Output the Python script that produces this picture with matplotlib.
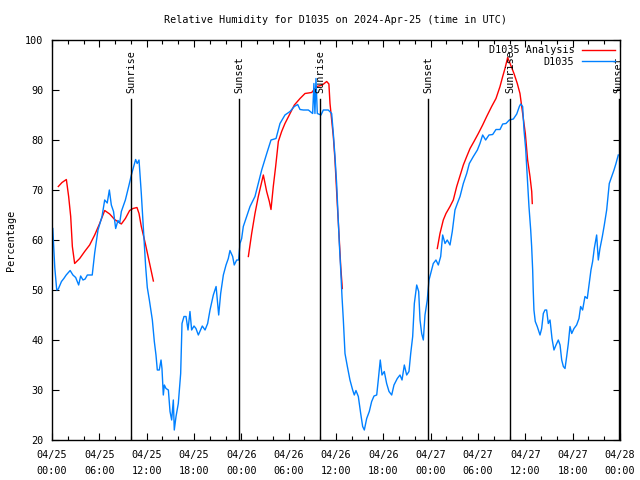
import matplotlib
matplotlib.use("Agg")
import matplotlib.pyplot as plt
import numpy as np

# hours since 2024-04-25 00:00 UTC
obs_hours = [0.1, 0.35, 0.6, 0.8, 1.2, 1.5, 1.8, 2.3, 2.65, 3.0, 3.38, 3.63, 3.93, 4.2, 4.48, 5.1,
             5.41, 5.83, 6.34, 6.68, 7.0, 7.27, 7.52, 7.8, 8.07, 8.36, 8.58, 8.79, 9.3, 9.72, 10.06,
             10.4, 10.6, 10.8, 11.03, 11.32, 11.6, 11.87, 12.08, 12.34, 12.72, 12.97, 13.18, 13.35,
             13.6, 13.82, 13.94, 14.11, 14.24, 14.45, 14.75, 14.96, 15.17, 15.38, 15.5, 15.72, 16.01,
             16.31, 16.48, 16.73, 16.99, 17.24, 17.49, 17.7, 18.0, 18.25, 18.55, 19.05, 19.4, 19.73,
             20.03, 20.45, 20.8, 21.13, 21.38, 21.72, 22.06, 22.35, 22.56, 22.9, 23.1, 23.41, 23.66,
             23.83, 24.04, 24.25, 24.68, 25.1, 25.73, 26.15, 26.58, 27.22, 27.76, 28.4, 28.9, 29.53,
             30.17, 30.72, 31.14, 31.44, 31.86, 32.5, 33.04, 33.2, 33.33, 33.46, 33.63, 34.1, 34.39,
             35.02, 35.45, 35.66, 35.87, 36.08, 36.29, 36.42, 36.6, 36.76, 36.93, 37.14, 37.44, 37.77,
             38.11, 38.32, 38.53, 38.83, 39.13, 39.38, 39.59, 39.89, 40.22, 40.52, 40.82, 41.16, 41.36,
             41.61, 41.83, 42.12, 42.42, 42.72, 43.06, 43.35, 43.77, 44.11, 44.37, 44.66, 44.96, 45.25,
             45.47, 45.72, 45.93, 46.23, 46.48, 46.65, 46.86, 47.07, 47.28, 47.57, 47.79, 48.0, 48.33,
             48.67, 48.97, 49.27, 49.52, 49.82, 50.1, 50.45, 50.74, 51.08, 51.38, 51.72, 52.14, 52.57,
             52.9, 53.41, 53.92, 54.25, 54.59, 54.97, 55.39, 55.86, 56.28, 56.79, 57.13, 57.55, 57.97,
             58.48, 58.91, 59.24, 59.41, 59.66, 59.83, 60.04, 60.17, 60.3, 60.46, 60.68, 60.8, 60.93,
             61.0, 61.09, 61.26, 61.51, 61.86, 62.07, 62.28, 62.49, 62.7, 62.91, 63.13, 63.38, 63.63,
             63.89, 64.18, 64.4, 64.61, 64.82, 65.03, 65.24, 65.45, 65.66, 65.88, 66.17, 66.5, 66.8,
             67.01, 67.26, 67.56, 67.85, 68.1, 68.32, 68.53, 68.74, 69.04, 69.25, 69.46, 69.76, 70.01,
             70.31, 70.64, 70.95, 71.24, 71.49, 71.78]
obs_rh = [62.3, 54.5, 50.0, 50.2, 51.7, 52.3, 53.0, 53.9, 53.0, 52.5, 51.0, 52.8, 52.0, 52.2, 53.0, 53.0,
          57.4, 62.0, 64.7, 68.0, 67.4, 70.0, 67.0, 65.7, 62.3, 63.9, 63.4, 65.7, 68.0, 70.7, 73.0,
          75.0, 76.1, 75.3, 76.0, 69.3, 62.0, 54.7, 50.5, 48.0, 44.0, 39.7, 37.0, 34.0,
          34.0, 36.0, 34.3, 29.0, 31.0, 30.3, 30.0, 25.7, 24.0, 28.0, 22.0, 24.7, 27.3,
          33.3, 43.3, 44.7, 44.7, 42.0, 45.7, 42.0, 42.8, 42.3, 41.0, 42.8, 42.0, 43.3,
          46.0, 49.0, 50.7, 45.0, 49.3, 53.0, 55.0, 56.3, 57.9, 56.7, 55.0, 56.0, 56.0,
          59.3, 60.3, 62.7, 64.7, 66.7, 68.7, 71.3, 74.0, 77.3, 80.0, 80.3, 83.3, 85.0,
          85.7, 86.7, 87.1, 86.1, 86.0, 86.0, 85.3, 91.3, 85.3, 92.3, 85.3, 85.0, 86.0,
          86.0, 85.3, 81.3, 76.7, 71.3, 64.0, 59.3, 54.0, 48.7, 44.0, 37.3, 34.7, 32.0,
          30.0, 29.0, 29.9, 28.7, 25.3, 22.7, 22.0, 24.3, 25.7, 27.7, 28.8, 29.0, 32.0,
          36.0, 33.0, 33.7, 31.3, 29.7, 29.0, 31.0, 32.3, 33.0, 32.0, 35.0, 33.0, 33.7,
          37.3, 40.7, 47.3, 51.0, 49.7, 44.0, 41.3, 40.0, 45.0, 48.0, 52.0, 53.3, 55.3,
          56.0, 55.0, 56.7, 61.0, 59.3, 60.0, 59.0, 61.7, 66.0, 67.3, 68.7, 71.3, 73.3,
          75.3, 76.7, 78.0, 79.3, 81.0, 80.0, 81.0, 81.1, 82.1, 82.1, 83.2, 83.3, 84.0,
          84.2, 85.2, 86.7, 87.2, 86.7, 82.0, 78.3, 74.7, 71.3, 66.7, 62.0, 58.7, 54.0,
          50.0, 46.0, 43.7, 42.7, 41.0, 42.3, 45.3, 46.0, 46.0, 43.3, 44.0, 40.3, 38.0,
          39.0, 40.0, 39.0, 36.0, 34.7, 34.3, 36.7, 39.3, 42.7, 41.3, 42.3, 43.0, 44.3,
          46.7, 46.0, 48.7, 48.3, 51.3, 54.0, 55.7, 58.3, 61.0, 56.0, 58.3, 60.7, 63.0,
          66.0, 71.3, 72.7, 74.0, 75.3, 77.0]

# analysis series, NaN marks the gaps between runs
ana_hours = [0.8, 1.27, 1.82, 2.11, 2.37, 2.58, 2.87, 3.51, 4.14, 4.77, 5.41, 6.04, 6.68, 7.31, 7.94,
             8.79, 9.3, 9.84, 10.27, 10.77, 11.03, 11.32, 11.62, 11.87, 12.85, 18.0,
             24.89, 25.31, 25.73, 26.15, 26.49, 26.79, 27.21, 27.55, 27.76, 28.05, 28.35, 28.69, 29.11,
             29.53, 30.08, 30.72, 31.44, 32.07, 32.92, 33.55, 34.27, 34.82, 35.1, 35.24, 35.45, 35.66,
             35.87, 36.16, 36.42, 36.6, 36.8, 42.0,
             48.84, 49.18, 49.6, 49.94, 50.45, 50.87, 51.3, 51.81, 52.14, 52.57, 52.99, 53.49, 54.04,
             54.59, 55.1, 55.73, 56.28, 56.79, 57.13, 57.42, 57.76, 58.14, 58.56, 58.98, 59.32, 59.66,
             60.0, 60.29, 60.59, 60.81, 60.88]
ana_rh = [70.7, 71.5, 72.1, 68.7, 64.7, 58.7, 55.3, 56.3, 57.7, 59.0, 61.0, 63.3, 65.9, 65.2, 64.1,
          63.2, 64.3, 65.9, 66.3, 66.5, 65.3, 62.7, 60.7, 59.0, 51.8, np.nan,
          56.7, 61.3, 65.3, 68.7, 71.0, 73.0, 69.7, 67.7, 66.1, 70.7, 74.7, 79.7, 81.7,
          83.3, 85.0, 87.0, 88.3, 89.3, 89.5, 90.7, 91.0, 91.7, 91.2, 87.3, 84.0, 80.7,
          76.0, 67.3, 60.0, 54.7, 50.3, np.nan,
          58.3, 61.3, 64.0, 65.3, 66.7, 68.0, 70.7, 73.3, 75.0, 76.7, 78.3, 79.7, 81.3,
          83.0, 84.7, 86.7, 88.3, 90.7, 92.7, 94.3, 96.5, 95.0, 93.3, 91.3, 89.3, 85.3,
          81.3, 76.0, 72.7, 69.7, 67.3]

sun_hours = [10.0, 23.7, 34.03, 47.65, 58.06, 71.85]
sun_labels = ["Sunrise", "Sunset", "Sunrise", "Sunset", "Sunrise", "Sunset"]

tick_hours = [0, 6, 12, 18, 24, 30, 36, 42, 48, 54, 60, 66, 72]
tick_labels = ["04/25\n00:00", "04/25\n06:00", "04/25\n12:00", "04/25\n18:00",
               "04/26\n00:00", "04/26\n06:00", "04/26\n12:00", "04/26\n18:00",
               "04/27\n00:00", "04/27\n06:00", "04/27\n12:00", "04/27\n18:00",
               "04/28\n00:00"]

plt.rcParams['font.family'] = ['DejaVu Sans Mono']
fs = 7.3

fig = plt.figure(figsize=(6.4, 4.8), dpi=100)
ax = fig.add_axes([52 / 640, 40 / 480, 568 / 640, 400 / 480])

ax.plot(ana_hours, ana_rh, color='#ff0000', lw=1.0, label='D1035 Analysis')
ax.plot(obs_hours, obs_rh, color='#0080ff', lw=1.0, label='D1035')

for h, lab in zip(sun_hours, sun_labels):
    ax.plot([h, h], [20, 88.2], color='black', lw=1.0)
    ax.text(h, 89.3, lab, rotation=90, ha='center', va='bottom', fontsize=fs)

ax.set_xlim(0, 72)
ax.set_ylim(20, 100)
ax.set_xticks(tick_hours)
ax.set_xticklabels(tick_labels, fontsize=fs, linespacing=1.75)
ax.set_xticks(np.arange(0, 73, 2), minor=True)
ax.set_yticks(np.arange(20, 101, 10))
ax.tick_params(axis='y', labelsize=fs, pad=6)
ax.tick_params(axis='x', pad=7)
ax.tick_params(which='both', direction='in', top=True, right=True, width=0.8)
ax.tick_params(which='major', length=5)
ax.tick_params(which='minor', length=3)
for s in ax.spines.values():
    s.set_linewidth(1.0)

ax.set_title("Relative Humidity for D1035 on 2024-Apr-25 (time in UTC)", fontsize=fs, pad=12)
ax.set_ylabel("Percentage", fontsize=fs, labelpad=7)

ax.legend(loc='upper right', frameon=False, fontsize=fs, markerfirst=False,
          handlelength=3.2, borderaxespad=0.1, labelspacing=0.15, handletextpad=0.8)

fig.savefig("out.png", dpi=100)
